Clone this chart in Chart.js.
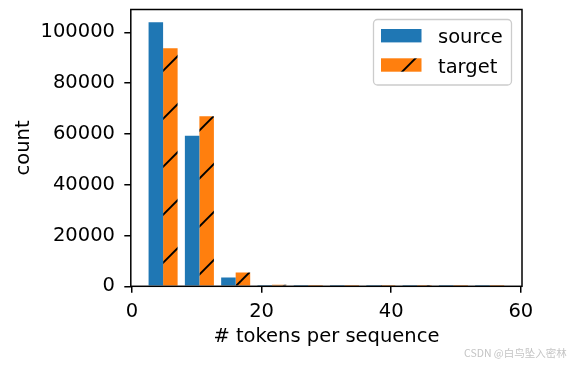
<!DOCTYPE html>
<html>
<head>
<meta charset="utf-8">
<script src="https://cdn.jsdelivr.net/npm/chart.js@4.4.1/dist/chart.umd.min.js"></script>
<style>
    html, body { margin: 0; padding: 0; background: #fff; }
    #wrap { position: relative; width: 573px; height: 365px; }
    #chart { position: absolute; left: 0; top: 0; }
    .mark { position: absolute; left: 464px; top: 345px; font: 10.5px 'Noto Sans CJK SC', sans-serif; color: #c4c4c4; white-space: nowrap; }
</style>
</head>
<body>
<div id="wrap">
    <canvas id="chart" width="573" height="365"></canvas>
    <div class="mark">CSDN @白鸟坠入密林</div>
</div>
<script>
// histogram bins (centres, # tokens) and counts per bin
const binCenters = [4.8, 10.4, 16.0, 21.6, 27.2, 32.8, 38.4, 44.0, 49.6, 55.2];
const sourceCounts = [103950, 59300, 3440, 150, 40, 12, 5, 2, 1, 1];
const targetCounts = [93750, 66950, 5450, 650, 120, 30, 10, 4, 2, 1];
const seriesLabels = ['source', 'target'];
const xTicks = [0, 20, 40, 60];
const yTicks = [0, 20000, 40000, 60000, 80000, 100000];

const FONT = "'DejaVu Sans', sans-serif";
Chart.defaults.font.family = FONT;
Chart.defaults.font.size = 19.5;
Chart.defaults.color = '#000';

// '/' hatch, anchored to the canvas like matplotlib does
function hatchPattern(fill) {
    const size = 48;
    const tile = document.createElement('canvas');
    tile.width = size;
    tile.height = size;
    const c = tile.getContext('2d');
    c.fillStyle = fill;
    c.fillRect(0, 0, size, size);
    c.strokeStyle = '#000';
    c.lineWidth = 1.9;
    [41.8, 41.8 + size].forEach((k) => {
        c.beginPath();
        c.moveTo(-4, k + 4);
        c.lineTo(k + 4, -4);
        c.stroke();
    });
    return c.createPattern(tile, 'repeat');
}

const ctx = document.getElementById('chart').getContext('2d');
const targetFill = hatchPattern('#ff7f0e');

const framePlugin = {
    id: 'frame',
    afterDraw(chart) {
        const { ctx, chartArea: a } = chart;
        ctx.save();
        ctx.strokeStyle = '#000';
        ctx.lineWidth = 1.5;
        ctx.strokeRect(a.left, a.top, a.right - a.left, a.bottom - a.top);

        // legend box, upper right inside the axes
        const x0 = 373.5, y0 = 19.5, w = 138, h = 65.5, r = 4;
        ctx.beginPath();
        ctx.roundRect(x0, y0, w, h, r);
        ctx.fillStyle = 'rgba(255,255,255,0.8)';
        ctx.fill();
        ctx.strokeStyle = '#cccccc';
        ctx.lineWidth = 1.3;
        ctx.stroke();
        chart.data.datasets.forEach((ds, i) => {
            const py = 29 + i * 29.3;
            ctx.fillStyle = ds.backgroundColor;
            ctx.fillRect(381, py, 40.5, 13.4);
            ctx.fillStyle = '#000';
            ctx.font = '19.5px ' + FONT;
            ctx.textBaseline = 'alphabetic';
            ctx.textAlign = 'left';
            ctx.fillText(ds.label, 438, py + 14.2);
        });
        ctx.restore();
    },
};

new Chart(ctx, {
    type: 'bar',
    data: {
        datasets: [
            {
                label: seriesLabels[0],
                data: binCenters.map((x, i) => ({ x, y: sourceCounts[i] })),
                backgroundColor: '#1f77b4',
                borderWidth: 0,
            },
            {
                label: seriesLabels[1],
                data: binCenters.map((x, i) => ({ x, y: targetCounts[i] })),
                backgroundColor: targetFill,
                borderWidth: 0,
            },
        ],
    },
    options: {
        responsive: false,
        animation: false,
        categoryPercentage: 0.8,
        barPercentage: 1.0,
        layout: { padding: { left: 0, top: 9.5, right: 51, bottom: 0 } },
        plugins: {
            legend: { display: false },
            tooltip: { enabled: false },
        },
        scales: {
            x: {
                type: 'linear',
                min: -0.184,
                max: 60.184,
                offset: false,
                border: { display: false },
                grid: { offset: false, drawOnChartArea: false, drawTicks: true, tickLength: 6.5, color: '#000', lineWidth: 1.5 },
                ticks: { padding: 7, maxRotation: 0, callback: (v) => String(v) },
                afterBuildTicks: (s) => { s.ticks = xTicks.map((value) => ({ value })); },
                afterFit: (s) => { s.height = 78.7; s.paddingLeft = 0; s.paddingRight = 0; },
                title: { display: true, text: '# tokens per sequence', padding: { top: 0, bottom: 16.3 } },
            },
            y: {
                min: 0,
                max: 109000,
                border: { display: false },
                grid: { drawOnChartArea: false, drawTicks: true, tickLength: 6.5, color: '#000', lineWidth: 1.5 },
                ticks: { padding: 9.3, callback: (v) => String(v) },
                afterBuildTicks: (s) => { s.ticks = yTicks.map((value) => ({ value })); },
                afterFit: (s) => { s.width = 130.8; s.paddingTop = 0; s.paddingBottom = 0; },
                title: { display: true, text: 'count', padding: { top: 12, bottom: 0 } },
            },
        },
    },
    plugins: [framePlugin],
});
</script>
</body>
</html>
